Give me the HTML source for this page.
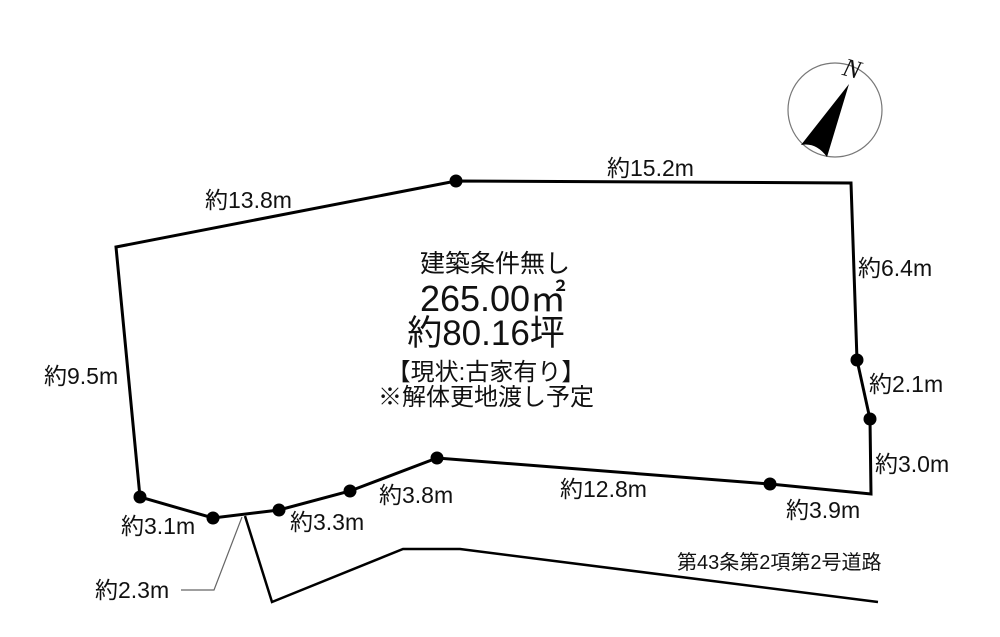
<!DOCTYPE html><html><head><meta charset="utf-8"><style>
body{margin:0;background:#fff}
text{font-family:"Liberation Sans","Noto Sans CJK JP",sans-serif;fill:#111}
</style></head><body>
<svg width="1000" height="632" viewBox="0 0 1000 632" xmlns="http://www.w3.org/2000/svg">
<circle cx="835" cy="110" r="47" fill="none" stroke="#777" stroke-width="1.2"/>
<path d="M849,84 L801,145 Q816,142 827,157 Z" fill="#000"/>
<text x="843" y="78" font-style="italic" font-size="26" style="font-family:'Liberation Serif',serif" transform="rotate(15 855 70)">N</text>
<polygon points="456,181 851,183 857,360 870,419 871,494 770,484 437,458 350,491 279,510 213,518 140,497 116,247" fill="none" stroke="#000" stroke-width="3"/>
<g fill="#000">
<circle cx="456" cy="181" r="6.5"/><circle cx="857" cy="360" r="6.5"/><circle cx="870" cy="419" r="6.5"/><circle cx="770" cy="484" r="6.5"/><circle cx="437" cy="458" r="6.5"/><circle cx="350" cy="491" r="6.5"/><circle cx="279" cy="510" r="6.5"/><circle cx="213" cy="518" r="6.5"/><circle cx="140" cy="497" r="6.5"/>
</g>
<polyline points="245,516 272,602 403,549 460,549 878,602" fill="none" stroke="#000" stroke-width="2.5"/>
<polyline points="242,517 214,590 181,590" fill="none" stroke="#666" stroke-width="1.2"/>
<g font-size="23">
<text x="205" y="208">約13.8m</text>
<text x="607" y="176">約15.2m</text>
<text x="858" y="276">約6.4m</text>
<text x="869" y="392">約2.1m</text>
<text x="875" y="472">約3.0m</text>
<text x="786" y="518">約3.9m</text>
<text x="560" y="497">約12.8m</text>
<text x="379" y="503">約3.8m</text>
<text x="290" y="530">約3.3m</text>
<text x="121" y="534">約3.1m</text>
<text x="44" y="384">約9.5m</text>
<text x="95" y="598">約2.3m</text>
<text x="677" y="569" font-size="20">第43条第2項第2号道路</text>
</g>
<text x="495" y="272" font-size="25" text-anchor="middle">建築条件無し</text>
<text x="493" y="311" font-size="36" text-anchor="middle">265.00㎡</text>
<text x="486" y="345" font-size="35" text-anchor="middle">約80.16坪</text>
<text x="486" y="380" font-size="24" text-anchor="middle">【現状:古家有り】</text>
<text x="486" y="405" font-size="24" text-anchor="middle">※解体更地渡し予定</text>
</svg>
</body></html>
